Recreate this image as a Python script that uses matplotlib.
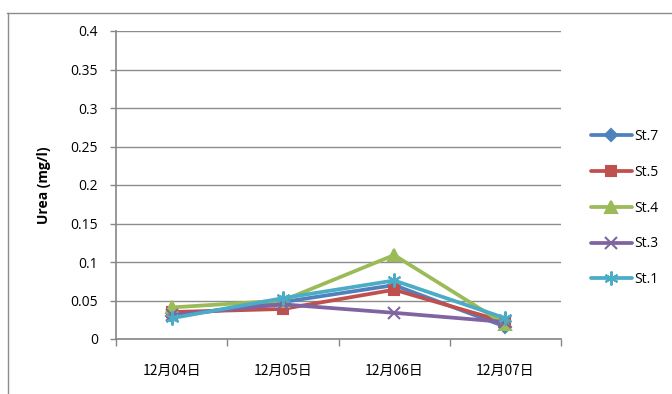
import matplotlib
matplotlib.use("Agg")
import matplotlib.pyplot as plt
from matplotlib.lines import Line2D
import numpy as np

plt.rcParams['font.family'] = ['Open Sans', 'Noto Sans CJK JP', 'DejaVu Sans']

dates = ["12月04日", "12月05日", "12月06日", "12月07日"]
series_names = ["St.7", "St.5", "St.4", "St.3", "St.1"]
st7 = [0.030, 0.048, 0.070, 0.016]
st5 = [0.035, 0.039, 0.064, 0.022]
st4 = [0.041, 0.050, 0.109, 0.019]
st3 = [0.031, 0.045, 0.034, 0.022]
st1 = [0.027, 0.053, 0.076, 0.027]
yticks = [0, 0.05, 0.1, 0.15, 0.2, 0.25, 0.3, 0.35, 0.4]
ytick_labels = ["0", "0.05", "0.1", "0.15", "0.2", "0.25", "0.3", "0.35", "0.4"]

colors = ["#4F81BD", "#C0504D", "#9BBB59", "#8064A2", "#4BACC6"]
markers = ["D", "s", "^", "x", (6, 2, 0)]
msizes = [6, 7, 8, 8, 10]

fig = plt.figure(figsize=(6.72, 3.94), dpi=100)
ax = fig.add_axes([116 / 672, 1 - 339 / 394, (561 - 116) / 672, (339 - 31) / 394])

# chart-area border (top and left edges)
fig.add_artist(Line2D([7 / 672, 1.0], [1 - 12.5 / 394, 1 - 12.5 / 394],
                      transform=fig.transFigure, color="#8c8c8c", lw=1.0))
fig.add_artist(Line2D([7.5 / 672, 7.5 / 672], [0, 1 - 12.5 / 394],
                      transform=fig.transFigure, color="#8c8c8c", lw=1.0))

x = np.arange(len(dates))
data = [st7, st5, st4, st3, st1]
for vals, name, c, m, ms in zip(data, series_names, colors, markers, msizes):
    ax.plot(x, vals, color=c, lw=2.7, marker=m, markersize=ms,
            markeredgecolor=c, markerfacecolor=c, markeredgewidth=1.5,
            label=name, solid_capstyle="round", solid_joinstyle="round")

ax.set_xlim(-0.5, 3.5)
ax.set_ylim(0, 0.4)
ax.set_yticks(yticks)
ax.set_yticklabels(ytick_labels, fontsize=10)
ax.set_xticks(x)
ax.set_xticklabels(dates, fontsize=10, family=['Noto Sans CJK JP', 'DejaVu Sans'])
ax.set_xticks(np.arange(-0.5, 4.0, 1.0), minor=True)
ax.tick_params(axis="x", which="major", length=0, pad=18)
ax.tick_params(axis="x", which="minor", length=5, color="#868686", width=1)
ax.tick_params(axis="y", length=4, color="#868686", width=1, pad=9)

ax.yaxis.grid(True, color="#8c8c8c", lw=1)
ax.set_axisbelow(True)
for s in ["top", "right"]:
    ax.spines[s].set_visible(False)
for s in ["left", "bottom"]:
    ax.spines[s].set_color("#868686")
    ax.spines[s].set_linewidth(1.2)

ax.set_ylabel("Urea (mg/l)", fontsize=10, fontweight="bold", labelpad=14)

leg = ax.legend(loc="center left", bbox_to_anchor=(1.04, 0.425), frameon=False,
                fontsize=10, handlelength=2.9, handletextpad=0.2,
                labelspacing=1.5)

fig.savefig("out.png", dpi=100)
